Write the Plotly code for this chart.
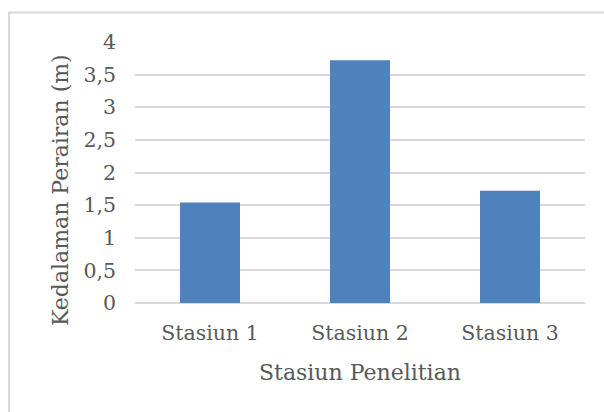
import plotly.graph_objects as go

# Water depth per research station
stations = ["Stasiun 1", "Stasiun 2", "Stasiun 3"]
depth_m = [1.54, 3.72, 1.72]
y_ticks = [0, 0.5, 1, 1.5, 2, 2.5, 3, 3.5, 4]
y_tick_text = ["0", "0,5", "1", "1,5", "2", "2,5", "3", "3,5", "4"]

W, H = 604, 412
L, R, T, B = 135, 19, 42, 109
pw, ph = W - L - R, H - T - B

def px_x(x):
    return (x - L) / pw

def px_y(y):
    return (H - B - y) / ph

FONT = "DejaVu Serif"
TXT = "#595959"
GRID = "#D9D9D9"

fig = go.Figure(
    go.Bar(
        x=stations,
        y=depth_m,
        marker=dict(color="#4F81BD", line=dict(width=0)),
        width=0.4,
    )
)

fig.update_layout(
    width=W,
    height=H,
    margin=dict(l=L, r=R, t=T, b=B),
    paper_bgcolor="white",
    plot_bgcolor="white",
    showlegend=False,
    font=dict(family=FONT, color=TXT),
    xaxis=dict(
        showgrid=False,
        showline=False,
        zeroline=False,
        ticks="",
        tickfont=dict(family=FONT, size=20.5, color=TXT),
        ticklabelstandoff=15,
    ),
    yaxis=dict(
        range=[0, 4],
        tickvals=y_ticks,
        ticktext=y_tick_text,
        showgrid=True,
        gridcolor=GRID,
        gridwidth=2,
        zeroline=True,
        zerolinecolor=GRID,
        zerolinewidth=2,
        showline=False,
        ticks="",
        tickfont=dict(family=FONT, size=20.5, color=TXT),
        ticklabelstandoff=18,
    ),
    annotations=[
        dict(
            text="Kedalaman Perairan (m)",
            xref="paper", yref="paper",
            x=px_x(60), y=px_y(190),
            xanchor="center", yanchor="middle",
            textangle=-90, showarrow=False,
            font=dict(family=FONT, size=22, color=TXT),
        ),
        dict(
            text="Stasiun Penelitian",
            xref="paper", yref="paper",
            x=px_x(360), y=px_y(372),
            xanchor="center", yanchor="middle",
            showarrow=False,
            font=dict(family=FONT, size=22, color=TXT),
        ),
    ],
    shapes=[
        dict(
            type="rect",
            xref="paper", yref="paper",
            x0=px_x(9), x1=px_x(W + 5),
            y0=px_y(H + 5), y1=px_y(12.5),
            line=dict(color=GRID, width=2),
            fillcolor="rgba(0,0,0,0)",
            layer="below",
        )
    ],
)

fig.write_html("out.html")
